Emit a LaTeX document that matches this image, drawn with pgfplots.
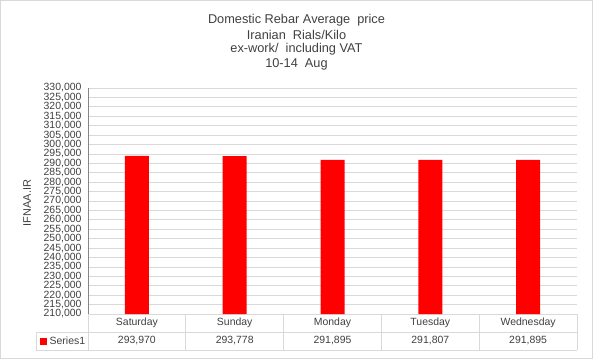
\documentclass[border=0pt]{standalone}
\usepackage{pgfplots}
\pgfplotsset{compat=1.18}
\usepackage{fontspec}
\setmainfont{Liberation Sans}
\definecolor{gridc}{HTML}{D9D9D9}
\definecolor{axc}{HTML}{868686}
\definecolor{txt}{HTML}{404040}
\definecolor{barred}{HTML}{FF0000}
\begin{document}
\begin{tikzpicture}[x=1bp,y=1bp]
\draw[gridc, line width=1bp] (0.5,0.5) rectangle (592.5,358.5);
\begin{axis}[
  at={(88bp,45bp)}, anchor=south west,
  scale only axis, width=489bp, height=226bp,
  ymin=210000, ymax=330000, ytick distance=5000,
  scaled y ticks=false,
  xmin=-0.5, xmax=4.5, xtick=\empty,
  ymajorgrids, grid style={gridc, line width=0.75bp},
  axis y line*=left, axis x line*=bottom,
  x axis line style={gridc, -}, y axis line style={axc, -},
  major tick length=0pt,
  yticklabel style={font=\fontsize{10.5}{10.5}\selectfont, text=txt, xshift=-3bp},
  /pgf/number format/.cd, fixed, 1000 sep={,}, assume math mode=true,
  /pgfplots/.cd,
  ybar, bar width=24bp,
  clip=false,
]
\addplot[fill=barred, draw=none] coordinates {(0,293970) (1,293778) (2,291895) (3,291807) (4,291895)};
\end{axis}
% title
\node[font=\fontsize{12.8}{12.8}\selectfont, text=txt] at (296.5,339) {Domestic Rebar Average\ \ price};
\node[font=\fontsize{12.8}{12.8}\selectfont, text=txt] at (296.5,324.5) {Iranian\ \ Rials/Kilo};
\node[font=\fontsize{12.8}{12.8}\selectfont, text=txt] at (296.5,310) {ex-work/\ \ including VAT};
\node[font=\fontsize{12.8}{12.8}\selectfont, text=txt] at (296.5,295) {10-14\ \ Aug};
% y label
\node[font=\fontsize{11}{11}\selectfont, text=txt, rotate=90] at (27,156) {IFNAA.IR};
% data table
\draw[gridc, line width=0.75bp] (36,27) -- (577,27);
\draw[gridc, line width=0.75bp] (36,9) -- (577,9);
\draw[gridc, line width=0.75bp] (36,27) -- (36,9);
\foreach \k in {0,...,5} {
  \draw[gridc, line width=0.75bp] ({88+97.8*\k},45) -- ({88+97.8*\k},9);
}
\foreach \name [count=\i from 0] in {Saturday,Sunday,Monday,Tuesday,Wednesday} {
  \node[font=\fontsize{10.5}{10.5}\selectfont, text=txt] at ({136.9+97.8*\i},36) {\name};
}
\foreach \v [count=\i from 0] in {293{,}970,293{,}778,291{,}895,291{,}807,291{,}895} {
  \node[font=\fontsize{10.5}{10.5}\selectfont, text=txt] at ({136.9+97.8*\i},18) {\v};
}
\fill[barred] (40,14.5) rectangle (46.5,21);
\node[font=\fontsize{10.5}{10.5}\selectfont, text=txt, anchor=west, inner sep=0pt] at (49.5,18) {Series1};
\end{tikzpicture}
\end{document}
